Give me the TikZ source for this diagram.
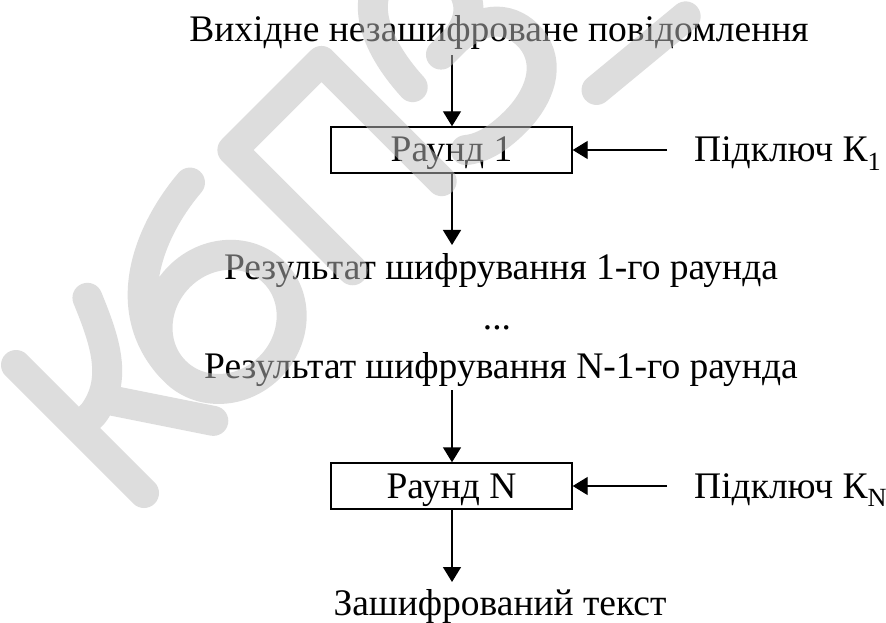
\documentclass[tikz,border=0pt]{standalone}
\usepackage{fontspec}
\setmainfont{Liberation Serif}
\usetikzlibrary{arrows.meta}
\begin{document}
\begin{tikzpicture}[x=1pt,y=1pt,
  lbl/.style={font=\fontsize{37.5}{44}\selectfont, inner sep=0pt, anchor=base},
  roundbox/.style={draw, line width=1.4pt, minimum width=241pt, minimum height=46pt,
    inner sep=0pt, text height=30pt, text depth=6pt, font=\fontsize{37.5}{44}\selectfont},
  arr/.style={line width=1.4pt, -{Triangle[length=15pt,width=18pt]}},
  wm/.style={line width=30pt, line cap=round, line join=round, draw=black!26, opacity=.51}]
\useasboundingbox (0,0) rectangle (886,622);
\fill[white] (0,0) rectangle (886,622);

% text column
\node[lbl] (src) at (499,580) {Вихідне незашифроване повідомлення};
\node[roundbox] (r1) at (451.5,472) {Раунд 1};
\node[lbl, anchor=base west] (k1) at (694,460) {Підключ К\textsubscript{1}};
\node[lbl] (res1) at (501,342) {Результат шифрування 1-го раунда};
\node[lbl] (dots) at (497,293) {...};
\node[lbl] (resn) at (501,244) {Результат шифрування N-1-го раунда};
\node[roundbox] (rn) at (451.5,136) {Раунд N};
\node[lbl, anchor=base west] (kn) at (694,124) {Підключ К\textsubscript{N}};
\node[lbl] (out) at (500,7) {Зашифрований текст};

% free ends of the connectors
\coordinate (a1) at (452,567);
\coordinate (a2) at (452,377);
\coordinate (a3) at (452,232);
\coordinate (a4) at (452,40);
\coordinate (b1) at (667,472);
\coordinate (bn) at (667,136);

\draw[arr] (a1) -- (r1.north -| a1);
\draw[arr] (r1.south -| a2) -- (a2);
\draw[arr] (a3) -- (rn.north -| a3);
\draw[arr] (rn.south -| a4) -- (a4);
\draw[arr] (b1) -- (r1.east);
\draw[arr] (bn) -- (rn.east);

% watermark
\begin{scope}[shift={(144,129)}, rotate=45]
  \draw[wm]
    (0,0) -- (0,181)
    (98,178) .. controls (80,135) and (62,98) .. (20,92) -- (0,92)
    (38,95) -- (100,2);
  \draw[wm]
    (178,64) ellipse [x radius=70, y radius=64]
    (252,187) .. controls (190,182) and (112,150) .. (108,70);
  \draw[wm] (305,10) -- (305,180) -- (431,180) -- (431,10);
  \draw[wm]
    (477,97) .. controls (480,160) and (505,195) .. (535,195)
      .. controls (570,195) and (585,170) .. (583,140)
      .. controls (581,115) and (565,102) .. (540,100) -- (520,100)
    (540,100) .. controls (580,98) and (597,75) .. (595,48)
      .. controls (592,15) and (560,0) .. (525,0)
      .. controls (500,0) and (482,5) .. (470,15);
  \draw[wm] (605,-35) -- (720,-46);
\end{scope}
\end{tikzpicture}
\end{document}
